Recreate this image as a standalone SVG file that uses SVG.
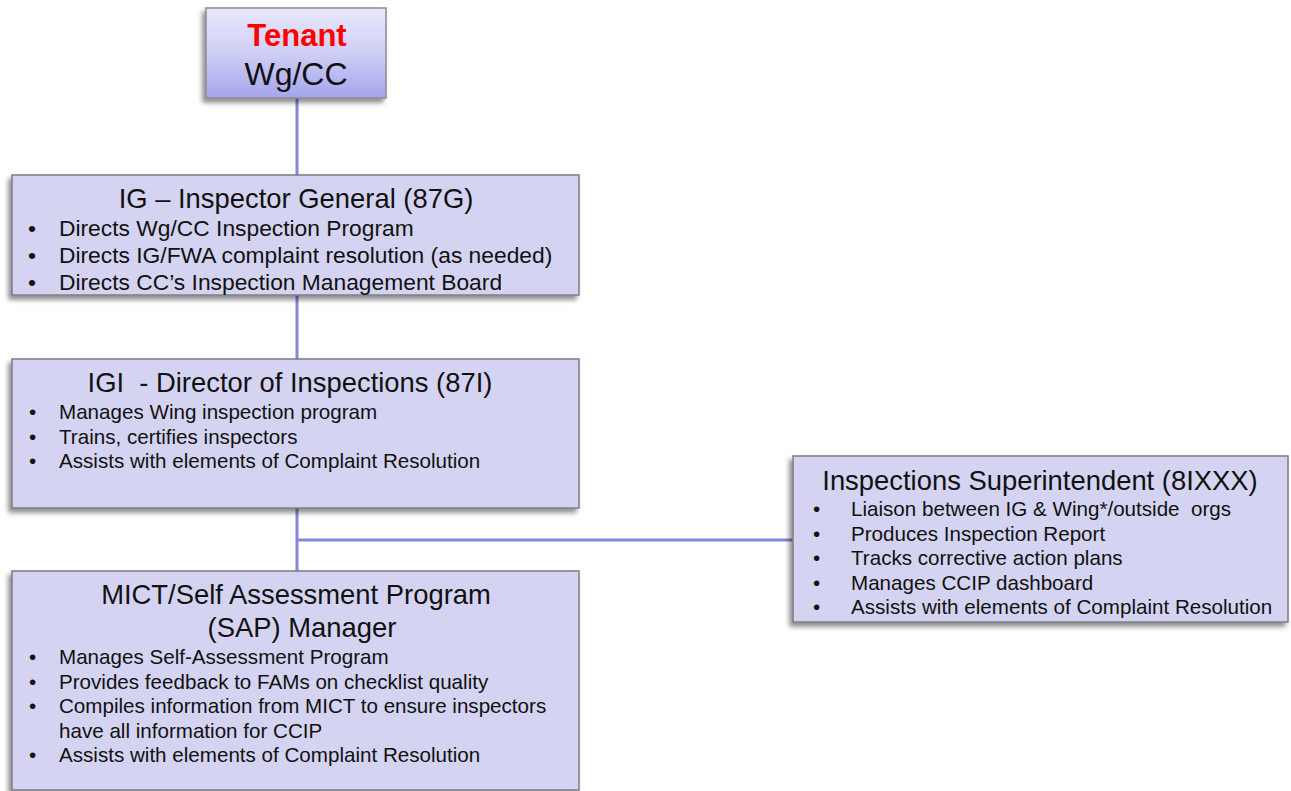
<svg xmlns="http://www.w3.org/2000/svg" width="1291" height="791" viewBox="0 0 1291 791">
  <defs>
    <linearGradient id="tenantFill" x1="0" y1="0" x2="0" y2="1">
      <stop offset="0" stop-color="#E8E8FC"/>
      <stop offset="0.5" stop-color="#CFCFF6"/>
      <stop offset="1" stop-color="#A4A4EC"/>
    </linearGradient>
    <filter id="shadow" x="-10%" y="-10%" width="120%" height="130%">
      <feDropShadow dx="-3" dy="4" stdDeviation="2.5" flood-color="#000" flood-opacity="0.45"/>
    </filter>
  </defs>
  <style>
    .box { fill: #D4D4F2; stroke: #7C7C84; stroke-width: 1.5; filter: url(#shadow); }
    .tenant { fill: url(#tenantFill); stroke: #8A8A92; stroke-width: 1.5; filter: url(#shadow); }
    .link { stroke: #8686DC; stroke-width: 3; fill: none; }
    text { font-family: "Liberation Sans", Arial, sans-serif; fill: #111; }
    .title { font-size: 27.4px; text-anchor: middle; }
    .big { font-size: 22.8px; }
    .item { font-size: 20.6px; }
    .red { fill: #FF0000; font-weight: bold; font-size: 31px; text-anchor: middle; }
    .wg { font-size: 32px; text-anchor: middle; }
  </style>

  <rect width="1291" height="791" fill="#FFFFFF"/>

  <!-- connectors -->
  <g id="connectors">
    <line class="link" x1="297" y1="98" x2="297" y2="571"/>
    <line class="link" x1="297" y1="540" x2="793" y2="540"/>
  </g>

  <!-- Tenant Wg/CC -->
  <g id="tenant">
    <rect class="tenant" x="206" y="8" width="180" height="90"/>
    <text class="red" x="297" y="46">Tenant</text>
    <text class="wg" x="296" y="85">Wg/CC</text>
  </g>

  <!-- IG -->
  <g id="ig">
    <rect class="box" x="12" y="175" width="567" height="120"/>
    <text class="title" x="296" y="208">IG – Inspector General (87G)</text>
    <g class="big">
      <text x="28" y="236">•</text><text x="59" y="236">Directs Wg/CC Inspection Program</text>
      <text x="28" y="263">•</text><text x="59" y="263">Directs IG/FWA complaint resolution (as needed)</text>
      <text x="28" y="290">•</text><text x="59" y="290">Directs CC’s Inspection Management Board</text>
    </g>
  </g>

  <!-- IGI -->
  <g id="igi">
    <rect class="box" x="12" y="359" width="567" height="149"/>
    <text class="title" x="290" y="392" xml:space="preserve">IGI  - Director of Inspections (87I)</text>
    <g class="item">
      <text x="29" y="419">•</text><text x="59" y="419">Manages Wing inspection program</text>
      <text x="29" y="444">•</text><text x="59" y="444">Trains, certifies inspectors</text>
      <text x="29" y="468">•</text><text x="59" y="468">Assists with elements of Complaint Resolution</text>
    </g>
  </g>

  <!-- Inspections Superintendent -->
  <g id="superintendent">
    <rect class="box" x="793" y="456" width="495" height="166"/>
    <text class="title" x="1040" y="490">Inspections Superintendent (8IXXX)</text>
    <g class="item">
      <text x="813" y="516">•</text><text x="851" y="516" xml:space="preserve">Liaison between IG &amp; Wing*/outside  orgs</text>
      <text x="813" y="541">•</text><text x="851" y="541">Produces Inspection Report</text>
      <text x="813" y="565">•</text><text x="851" y="565">Tracks corrective action plans</text>
      <text x="813" y="590">•</text><text x="851" y="590">Manages CCIP dashboard</text>
      <text x="813" y="614">•</text><text x="851" y="614">Assists with elements of Complaint Resolution</text>
    </g>
  </g>

  <!-- MICT / SAP Manager -->
  <g id="sap">
    <rect class="box" x="12" y="571" width="567" height="219"/>
    <text class="title" x="296" y="604">MICT/Self Assessment Program</text>
    <text class="title" x="302" y="637">(SAP) Manager</text>
    <g class="item">
      <text x="29" y="664">•</text><text x="59" y="664">Manages Self-Assessment Program</text>
      <text x="29" y="689">•</text><text x="59" y="689">Provides feedback to FAMs on checklist quality</text>
      <text x="29" y="713">•</text><text x="59" y="713">Compiles information from MICT to ensure inspectors</text>
      <text x="59" y="738">have all information for CCIP</text>
      <text x="29" y="762">•</text><text x="59" y="762">Assists with elements of Complaint Resolution</text>
    </g>
  </g>
</svg>
